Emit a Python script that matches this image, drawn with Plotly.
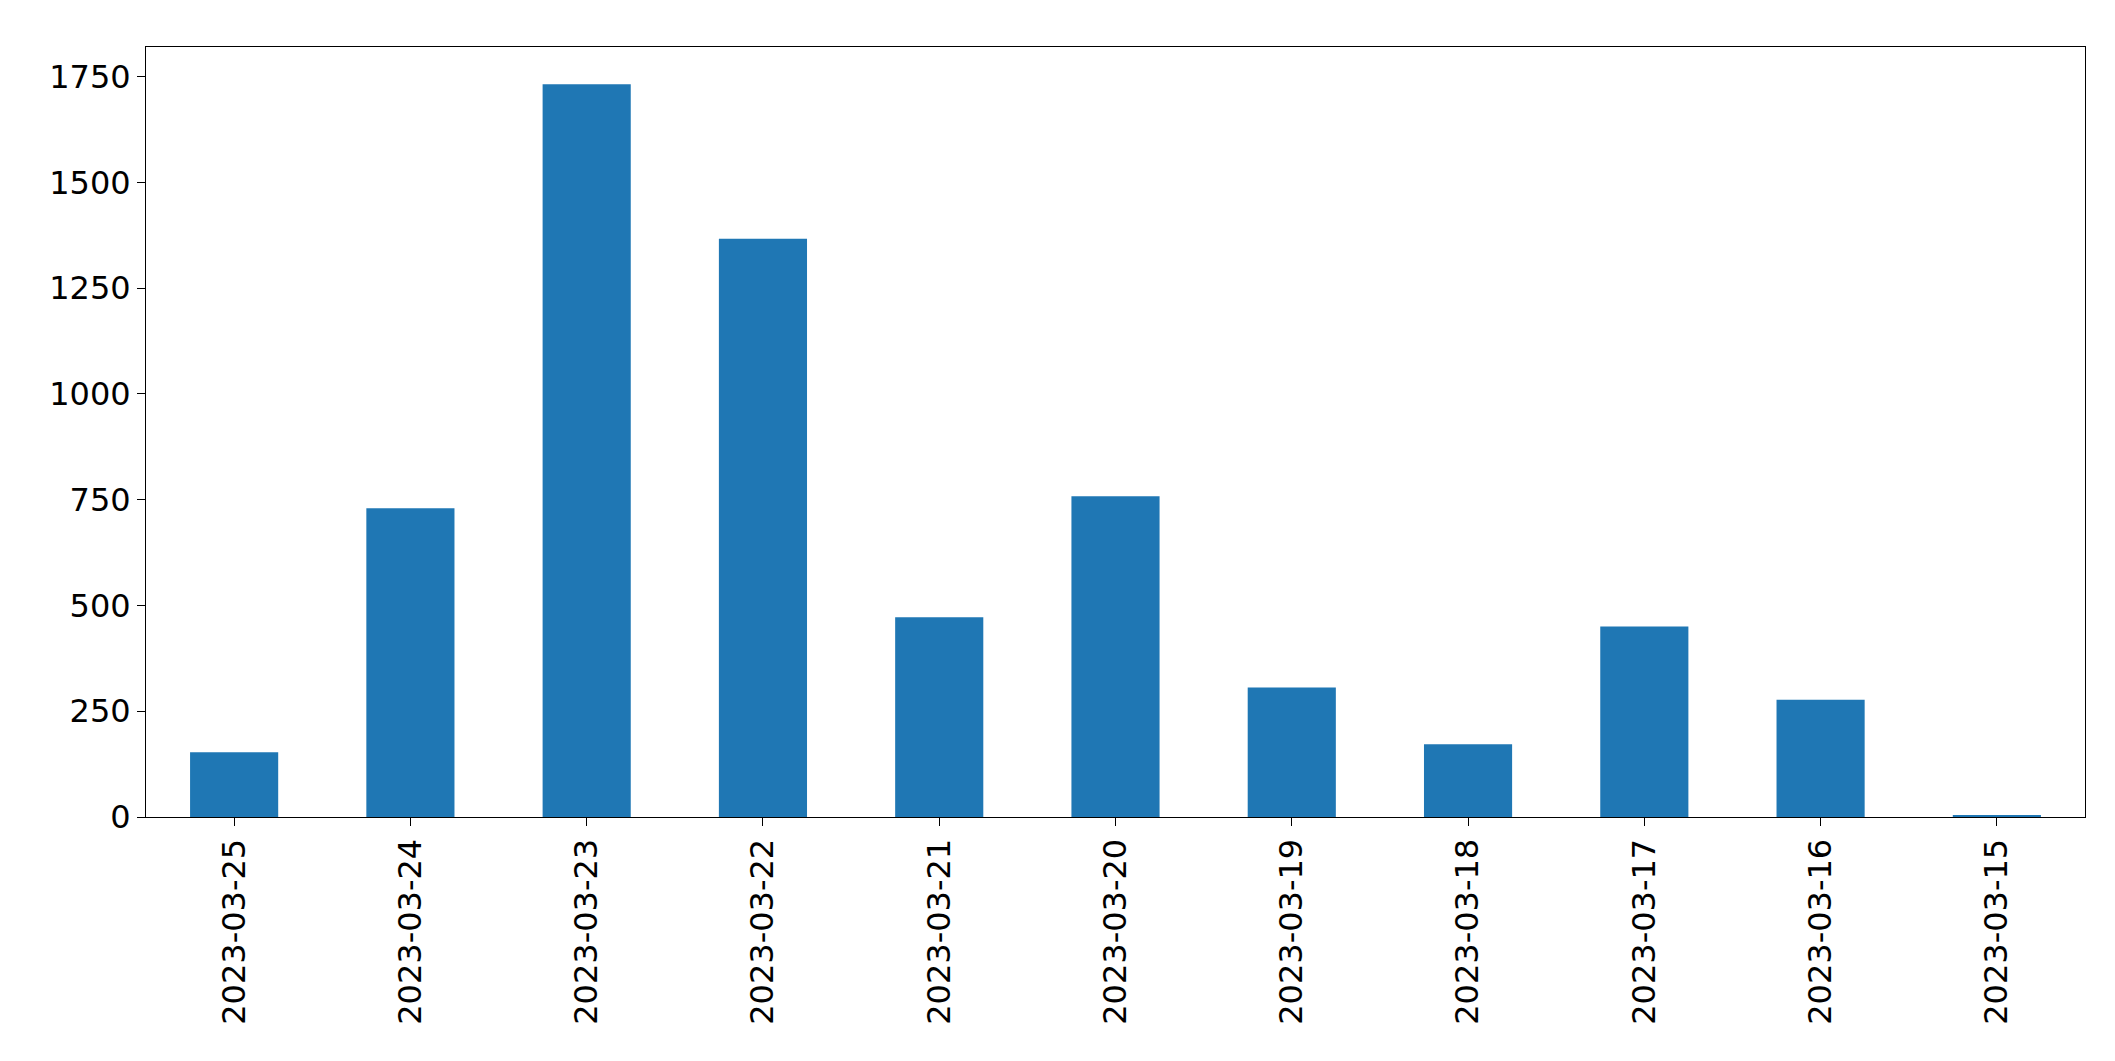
import plotly.graph_objects as go

dates = ["2023-03-25","2023-03-24","2023-03-23","2023-03-22","2023-03-21","2023-03-20",
         "2023-03-19","2023-03-18","2023-03-17","2023-03-16","2023-03-15"]
counts = [153, 730, 1732, 1367, 472, 758, 306, 172, 450, 277, 3]

fig = go.Figure(go.Bar(x=dates, y=counts, width=0.5, marker_color="#1f77b4", marker_line_width=0))
fig.update_layout(
    width=2115, height=1061, plot_bgcolor="white", paper_bgcolor="white",
    margin=dict(l=138, r=38, t=39, b=252), showlegend=False,
    font=dict(family="DejaVu Sans", size=32, color="black"),
    bargap=0.5,
)
fig.update_xaxes(type="category", tickangle=-90, showline=True, linecolor="black", mirror=True,
                 ticks="outside", ticklen=8, tickcolor="black", showgrid=False, range=[-0.5, 10.5])
fig.update_yaxes(range=[0, 1820], tickvals=[0,250,500,750,1000,1250,1500,1750], showline=True,
                 linecolor="black", mirror=True, ticks="outside", ticklen=8, tickcolor="black",
                 showgrid=False, zeroline=False)
fig.write_html("out.html")
